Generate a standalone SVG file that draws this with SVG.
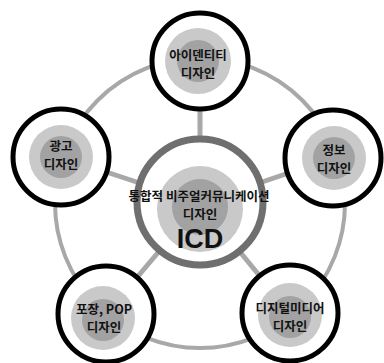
<svg xmlns="http://www.w3.org/2000/svg" width="384" height="363" viewBox="0 0 384 363">
<style>
.ring{fill:none;stroke:#a8a8a8;stroke-width:4}
.spoke{stroke:#a8a8a8;stroke-width:5}
.outer{fill:#fff;stroke:#000;stroke-width:5}
.light{fill:#c9c9c9}
.dark{fill:#a2a2a2}
.lbl{font-family:"Noto Sans CJK KR","Noto Sans",sans-serif;font-weight:bold;font-size:12.5px;fill:#111;text-anchor:middle}
.icd{font-family:"Liberation Sans",Arial,sans-serif;font-weight:bold;font-size:27px;fill:#111;text-anchor:middle}
</style>
<rect width="384" height="363" fill="#fff"/>
<g id="connectors">
<circle class="ring" cx="200" cy="203" r="145"/>
<line class="spoke" x1="200" y1="203" x2="200" y2="61"/>
<line class="spoke" x1="200" y1="203" x2="61" y2="157"/>
<line class="spoke" x1="200" y1="203" x2="333" y2="158"/>
<line class="spoke" x1="200" y1="203" x2="106" y2="314"/>
<line class="spoke" x1="200" y1="203" x2="290" y2="313"/>
</g>
<g id="center">
<circle cx="200" cy="202" r="63" fill="#fff" stroke="#6f6f6f" stroke-width="7"/>
<circle class="light" cx="200" cy="209" r="43"/>
<circle class="dark" cx="200" cy="207" r="28"/>
<text class="lbl" x="199" y="201">통합적 비주얼커뮤니케이션<tspan x="200" dy="17.5">디자인</tspan></text>
<text class="icd" x="200" y="248">ICD</text>
</g>
<g id="identity">
<circle class="outer" cx="200" cy="61" r="48"/>
<circle class="light" cx="198" cy="61" r="33"/>
<circle class="dark" cx="198" cy="61" r="21"/>
<text class="lbl" x="198" y="60">아이덴티티<tspan x="198" dy="17.5">디자인</tspan></text>
</g>
<g id="ad">
<circle class="outer" cx="61" cy="157" r="48"/>
<circle class="light" cx="61" cy="157" r="32"/>
<circle class="dark" cx="61" cy="157" r="21"/>
<text class="lbl" x="61" y="151">광고<tspan x="61" dy="17.5">디자인</tspan></text>
</g>
<g id="info">
<circle class="outer" cx="333" cy="158" r="48"/>
<circle class="light" cx="334" cy="158" r="32"/>
<circle class="dark" cx="334" cy="158" r="21"/>
<text class="lbl" x="334" y="155">정보<tspan x="334" dy="17.5">디자인</tspan></text>
</g>
<g id="package">
<circle class="outer" cx="106" cy="314" r="48"/>
<circle class="light" cx="103" cy="318" r="32"/>
<circle class="dark" cx="103" cy="320" r="21"/>
<text class="lbl" x="104" y="314">포장, POP<tspan x="104" dy="17.5">디자인</tspan></text>
</g>
<g id="digital">
<circle class="outer" cx="290" cy="313" r="48"/>
<circle class="light" cx="290" cy="315" r="32"/>
<circle class="dark" cx="290" cy="317" r="21"/>
<text class="lbl" x="290" y="313">디지털미디어<tspan x="290" dy="17.5">디자인</tspan></text>
</g>
</svg>
